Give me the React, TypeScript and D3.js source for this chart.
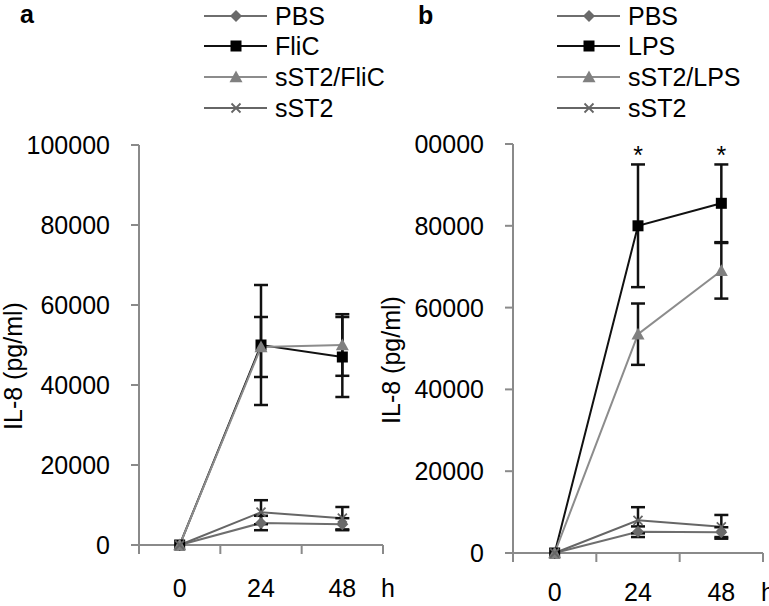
import React from "react";
import * as d3 from "d3";

const timepoints = ["0", "24", "48"];
const yTicks = [0, 20000, 40000, 60000, 80000, 100000];

// Panel a
const pbsA = [0, 5500, 5200];
const pbsAErr = [0, 1800, 1500];
const flic = [0, 50000, 47000];
const flicErr = [0, 15000, 10000];
const sst2Flic = [0, 49500, 50000];
const sst2FlicErr = [0, 7500, 7700];
const sst2A = [0, 8200, 6700];
const sst2AErr = [0, 3000, 2800];

// Panel b
const pbsB = [0, 5200, 5100];
const pbsBErr = [0, 1300, 1200];
const lps = [0, 80000, 85500];
const lpsErr = [0, 15000, 9500];
const sst2Lps = [0, 53500, 69000];
const sst2LpsErr = [0, 7500, 6800];
const sst2B = [0, 8000, 6400];
const sst2BErr = [0, 3200, 2900];

const FONT = "'Liberation Sans', Arial, sans-serif";
const FS = 25;

type Series = { name: string; values: number[]; err: number[]; marker: string; line: string; fill: string; lw: number };

const seriesA: Series[] = [
  { name: "PBS", values: pbsA, err: pbsAErr, marker: "diamond", line: "#6e6e6e", fill: "#6a6a6a", lw: 2 },
  { name: "FliC", values: flic, err: flicErr, marker: "square", line: "#111", fill: "#000", lw: 2 },
  { name: "sST2/FliC", values: sst2Flic, err: sst2FlicErr, marker: "triangle", line: "#8c8c8c", fill: "#808080", lw: 2 },
  { name: "sST2", values: sst2A, err: sst2AErr, marker: "x", line: "#666", fill: "#666", lw: 2 },
];
const seriesB: Series[] = [
  { name: "PBS", values: pbsB, err: pbsBErr, marker: "diamond", line: "#6e6e6e", fill: "#6a6a6a", lw: 2 },
  { name: "LPS", values: lps, err: lpsErr, marker: "square", line: "#111", fill: "#000", lw: 2 },
  { name: "sST2/LPS", values: sst2Lps, err: sst2LpsErr, marker: "triangle", line: "#8c8c8c", fill: "#808080", lw: 2 },
  { name: "sST2", values: sst2B, err: sst2BErr, marker: "x", line: "#666", fill: "#666", lw: 2 },
];

function Marker({ type, x, y, fill }: { type: string; x: number; y: number; fill: string }) {
  if (type === "diamond") {
    const s = 6;
    return <path d={`M${x},${y - s}L${x + s},${y}L${x},${y + s}L${x - s},${y}Z`} fill={fill} />;
  }
  if (type === "square") {
    const s = 5.5;
    return <rect x={x - s} y={y - s} width={2 * s} height={2 * s} fill={fill} />;
  }
  if (type === "triangle") {
    const s = 6.5;
    return <path d={`M${x},${y - s}L${x + s},${y + s * 0.8}L${x - s},${y + s * 0.8}Z`} fill={fill} />;
  }
  const s = 4.5;
  return (
    <path d={`M${x - s},${y - s}L${x + s},${y + s}M${x - s},${y + s}L${x + s},${y - s}`} stroke={fill} strokeWidth={1.8} />
  );
}

type PanelCfg = {
  label: string; labelX: number; labelY: number;
  x0: number; x1: number; y0: number; y1: number;
  series: Series[]; legendX: number; titleX: number; titleY: number;
  xLabelY: number; stars: string[]; clipX?: number; id: string;
};

function Panel({ cfg }: { cfg: PanelCfg }) {
  const x = d3.scaleBand<string>().domain(timepoints).range([cfg.x0, cfg.x1]);
  const y = d3.scaleLinear().domain([0, 100000]).range([cfg.y0, cfg.y1]);
  const cx = (t: string) => (x(t) as number) + x.bandwidth() / 2;
  const line = d3.line<number>().x((_, i) => cx(timepoints[i])).y((v) => y(v));
  const axisColor = "#8a8a8a";
  const boundaries = [...timepoints.map((t) => x(t) as number), cfg.x1];
  const legendRows = [16, 46, 77, 108];
  return (
    <g>
      <text x={cfg.labelX} y={cfg.labelY} fontFamily={FONT} fontSize={FS} fontWeight="bold">{cfg.label}</text>
      {cfg.series.map((s, i) => (
        <g key={s.name}>
          <line x1={cfg.legendX} x2={cfg.legendX + 63} y1={legendRows[i]} y2={legendRows[i]} stroke={s.line} strokeWidth={2} />
          <Marker type={s.marker} x={cfg.legendX + 32} y={legendRows[i]} fill={s.fill} />
          <text x={cfg.legendX + 71} y={legendRows[i] + 9} fontFamily={FONT} fontSize={FS}>{s.name}</text>
        </g>
      ))}
      {/* y axis */}
      <g clipPath={cfg.clipX ? `url(#${cfg.id}-clip)` : undefined}>
        {yTicks.map((t) => (
          <text key={t} x={cfg.x0 - 29} y={y(t) + 9} textAnchor="end" fontFamily={FONT} fontSize={FS}>{String(t)}</text>
        ))}
      </g>
      <line x1={cfg.x0} x2={cfg.x0} y1={cfg.y1} y2={cfg.y0 + 9} stroke={axisColor} strokeWidth={2} />
      {yTicks.map((t) => (
        <line key={t} x1={cfg.x0 - 8} x2={cfg.x0} y1={y(t)} y2={y(t)} stroke={axisColor} strokeWidth={2} />
      ))}
      <line x1={cfg.x0} x2={cfg.x1} y1={cfg.y0} y2={cfg.y0} stroke={axisColor} strokeWidth={2} />
      {boundaries.map((b, i) => (
        <line key={i} x1={b} x2={b} y1={cfg.y0} y2={cfg.y0 + 9} stroke={axisColor} strokeWidth={2} />
      ))}
      {timepoints.map((t) => (
        <text key={t} x={cx(t)} y={cfg.xLabelY} textAnchor="middle" fontFamily={FONT} fontSize={FS}>{t}</text>
      ))}
      <text x={cfg.x1 - 2} y={cfg.xLabelY} fontFamily={FONT} fontSize={FS}>h</text>
      <text transform={`translate(${cfg.titleX},${cfg.titleY}) rotate(-90)`} textAnchor="middle" fontFamily={FONT} fontSize={FS}>IL-8 (pg/ml)</text>
      {/* lines */}
      {cfg.series.map((s) => (
        <path key={s.name} d={line(s.values) as string} fill="none" stroke={s.line} strokeWidth={s.lw} />
      ))}
      {/* error bars */}
      {cfg.series.map((s) =>
        s.values.map((v, i) => {
          if (!s.err[i]) return null;
          const px = cx(timepoints[i]);
          const top = y(v + s.err[i]);
          const bot = y(v - s.err[i]);
          return (
            <g key={s.name + i} stroke="#111" strokeWidth={2.5}>
              <line x1={px} x2={px} y1={top} y2={bot} />
              <line x1={px - 7} x2={px + 7} y1={top} y2={top} />
              <line x1={px - 7} x2={px + 7} y1={bot} y2={bot} />
            </g>
          );
        })
      )}
      {/* markers */}
      {cfg.series.map((s) =>
        s.values.map((v, i) => (
          <Marker key={s.name + "m" + i} type={s.marker} x={cx(timepoints[i])} y={y(v)} fill={s.fill} />
        ))
      )}
      {cfg.stars.map((t) => (
        <text key={"s" + t} x={cx(t)} y={164} textAnchor="middle" fontFamily={FONT} fontSize={FS}>*</text>
      ))}
    </g>
  );
}

const panelA: PanelCfg = {
  id: "pa", label: "a", labelX: 20, labelY: 23, x0: 139, x1: 383, y0: 545, y1: 145,
  series: seriesA, legendX: 204, titleX: 22, titleY: 366, xLabelY: 597, stars: [],
};
const panelB: PanelCfg = {
  id: "pb", label: "b", labelX: 418, labelY: 24, x0: 513, x1: 763, y0: 553, y1: 144,
  series: seriesB, legendX: 557, titleX: 400, titleY: 360, xLabelY: 601, stars: ["24", "48"], clipX: 414,
};

export default function App() {
  return (
    <svg width={769} height={606} style={{ position: "absolute", left: 0, top: 0, background: "#fff" }}>
      <defs>
        <clipPath id="pb-clip">
          <rect x={414} y={0} width={400} height={606} />
        </clipPath>
      </defs>
      <rect width={769} height={606} fill="#fff" />
      <Panel cfg={panelA} />
      <Panel cfg={panelB} />
    </svg>
  );
}
